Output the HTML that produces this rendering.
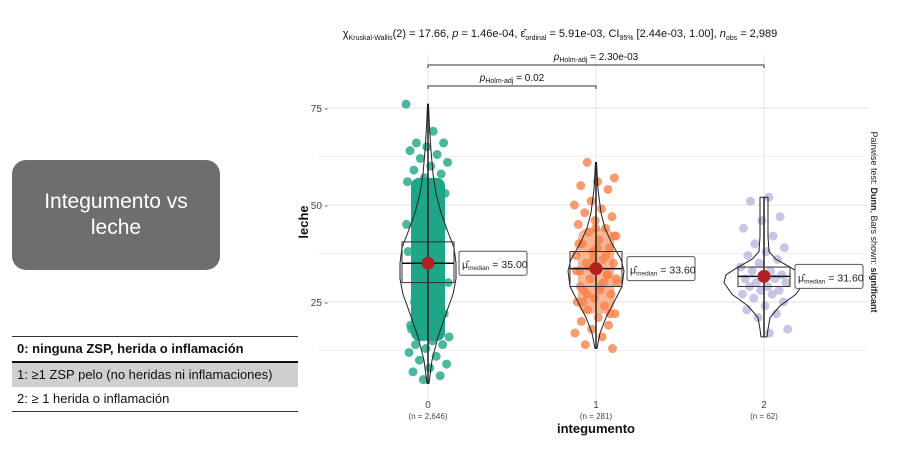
<!DOCTYPE html>
<html><head><meta charset="utf-8">
<style>
body{margin:0;width:898px;height:452px;background:#fff;overflow:hidden;font-family:"Liberation Sans",sans-serif;position:relative}
.card{position:absolute;left:12px;top:160px;width:208px;height:110px;background:#6e6e6e;border-radius:14px;color:#fff;font-size:21px;text-align:center;display:flex;align-items:center;justify-content:center;line-height:26px}
.tbl{position:absolute;left:12px;top:336px;width:286px;font-size:13px;color:#111}
.row{height:24px;line-height:24px;padding-left:5px}
</style></head><body>
<div class="card">Integumento vs<br>leche</div>
<div class="tbl">
<div style="border-top:1px solid #333"></div>
<div class="row" style="font-weight:bold">0: ninguna ZSP, herida o inflamación</div>
<div style="border-top:2px solid #111"></div>
<div class="row" style="background:#cfcfcf">1: ≥1 ZSP pelo (no heridas ni inflamaciones)</div>
<div class="row">2: ≥ 1 herida o inflamación</div>
<div style="border-top:1px solid #333"></div>
</div>
<svg id="chart" width="898" height="452" style="position:absolute;left:0;top:0"></svg>
<script>
const categories=["0","1","2"];
const counts=["(n = 2,646)","(n = 281)","(n = 62)"];
const medians=[35.0,33.6,31.6];
const q1s=[30,29,29];
const q3s=[40.5,38,34];
const mins=[4,13,16];
const maxs=[76,61,52];
const yTicks=[25,50,75];
const violin0=[[4,1],[10,4],[16,10],[22,18],[27,25],[31,28],[35,28],[39,26],[43,20],[48,13],[53,8],[58,5],[64,3],[70,1.5],[76,0.5]];
const violin1=[[13,1],[17,4],[21,10],[25,18],[29,26],[33,28],[36,25],[40,16],[44,9],[48,5],[54,2],[61,0.5]];
const violin2=[[16,3],[18,4],[21,6],[24,16],[27,32],[30,40],[32,38],[34,26],[36,12],[38,5],[42,4],[46,4],[50,4],[52,4]];
const pts0=[76,69,66,66,65,64,63,62,61,60,59,58,57,56,55,54,53,52,18,17,16,16,15,14,14,13,12,11,10,9,8,7,6,5,45,48,50,22,20,19,40,35,30,27,25,44,42,38,33,47];
const pts1=[61,57,56,55,54,51,50,49,48,47,46,45,44,43,42,41,40,39,38,37,36,35,35,34,33,32,31,30,29,28,27,26,25,24,23,22,21,20,19,18,17,16,14,13,44,40,37,34,31,28,25,22,36,33,30,27,42,39,29,32];
const pts2=[52,51,47,46,44,42,40,39,38,37,36,35,34,33,33,32,32,31,31,30,30,29,29,28,28,27,27,26,25,24,23,22,21,18,17];
const colors=["#1fa587","#f5834c","#a9a7d6"];
const svg=document.getElementById('chart');const NS="http://www.w3.org/2000/svg";
function Y(v){return 302-(v-25)*3.88;}
function X(i){return 428+i*168;}
function el(t,a,p){const e=document.createElementNS(NS,t);for(const k in a)e.setAttribute(k,a[k]);(p||svg).appendChild(e);return e;}
for(const v of [12.5,37.5,62.5]){const g=el('line',{x1:318,x2:868,y1:Y(v),y2:Y(v),stroke:'#f0f0f0'});}
for(const v of yTicks){const g=el('line',{x1:318,x2:868,y1:Y(v),y2:Y(v),stroke:'#e2e2e2'});
const t=el('text',{x:328,y:Y(v)+4,'font-size':10,fill:'#444','text-anchor':'end'});t.textContent=v+' -';}
categories.forEach((c,i)=>{const g=el('line',{x1:X(i),x2:X(i),y1:55,y2:404,stroke:'#e6e6e6'});});
const band=el('rect',{x:X(0)-17,y:Y(57),width:34,height:Y(15)-Y(57),fill:colors[0],rx:8});
const band1=el('rect',{x:X(1)-18,y:Y(44),width:36,height:Y(22)-Y(44),fill:colors[1],opacity:0.6,rx:10});
[pts0,pts1,pts2].forEach((arr,i)=>{const w=[22,22,24][i];arr.forEach((v,j)=>{const jx=(((j*0.6180339+i*0.3)%1)*2-1)*w;const c=el('circle',{cx:X(i)+jx,cy:Y(v),r:4.5,fill:colors[i],opacity:i==2?0.65:0.8});});});
[violin0,violin1,violin2].forEach((vd,i)=>{let d='M'+X(i)+','+Y(vd[0][0]);vd.forEach(p=>d+=' L'+(X(i)+p[1])+','+Y(p[0]));for(let k=vd.length-1;k>=0;k--)d+=' L'+(X(i)-vd[k][1])+','+Y(vd[k][0]);d+='Z';
const p=el('path',{d:d,fill:'none',stroke:'#222','stroke-width':1,'stroke-linejoin':'round'});
const wl=el('line',{x1:X(i),x2:X(i),y1:Y(mins[i]),y2:Y(maxs[i]),stroke:'#222','stroke-width':1.5});
const b=el('rect',{x:X(i)-26,y:Y(q3s[i]),width:52,height:Y(q1s[i])-Y(q3s[i]),fill:'none',stroke:'#333'});
const ml=el('line',{x1:X(i)-26,x2:X(i)+26,y1:Y(medians[i]),y2:Y(medians[i]),stroke:'#111','stroke-width':1.5});
const m=el('circle',{cx:X(i),cy:Y(medians[i]),r:6.5,fill:'#b22222'});
const lb=el('rect',{x:X(i)+31,y:Y(medians[i])-12,width:68,height:24,fill:'#fff',stroke:'#555',rx:2});
const lt=el('text',{x:X(i)+34,y:Y(medians[i])+5,'font-size':10.5,fill:'#222'});lt.innerHTML='μ̂<tspan font-size="6.5" dy="2">median</tspan><tspan dy="-2"> = '+medians[i].toFixed(2)+'</tspan>';
const xt=el('text',{x:X(i),y:408,'font-size':10,fill:'#444','text-anchor':'middle'});xt.textContent=categories[i];
const nt=el('text',{x:X(i),y:419,'font-size':8,fill:'#444','text-anchor':'middle'});nt.textContent=counts[i];});
const xa=el('text',{x:596,y:433,'font-size':13,'font-weight':'bold','text-anchor':'middle',fill:'#111'});xa.textContent='integumento';
const ya=el('text',{x:0,y:0,'font-size':13,'font-weight':'bold','text-anchor':'middle',fill:'#111',transform:'translate(308,222) rotate(-90)'});ya.textContent='leche';
const rt=el('text',{x:0,y:0,'font-size':9,'text-anchor':'middle',fill:'#222',transform:'translate(871,222) rotate(90)'});rt.innerHTML='Pairwise test: <tspan font-weight="bold">Dunn</tspan>, Bars shown: <tspan font-weight="bold">significant</tspan>';
const ti=el('text',{x:560,y:37,'font-size':11,'text-anchor':'middle',fill:'#111'});ti.innerHTML='χ<tspan font-size="7" dy="3">Kruskal-Wallis</tspan><tspan dy="-3">(2) = 17.66, </tspan><tspan font-style="italic">p</tspan> = 1.46e-04, ε̂<tspan font-size="7" dy="3">ordinal</tspan><tspan dy="-3"> = 5.91e-03, CI</tspan><tspan font-size="7" dy="3">95%</tspan><tspan dy="-3"> [2.44e-03, 1.00], </tspan><tspan font-style="italic">n</tspan><tspan font-size="7" dy="3">obs</tspan><tspan dy="-3"> = 2,989</tspan>';
function bar(x1,x2,y,label,name){const p=el('path',{d:`M${x1},${y+3} V${y} H${x2} V${y+3}`,fill:'none',stroke:'#333','stroke-width':1});
const t=el('text',{x:(x1+x2)/2,y:y-5,'font-size':10,'text-anchor':'middle',fill:'#111'});t.innerHTML='<tspan font-style="italic">p</tspan><tspan font-size="7" dy="2">Holm-adj</tspan><tspan dy="-2"> = '+label+'</tspan>';}
bar(X(0),X(2),65,'2.30e-03','sig-bar-0-2');
bar(X(0),X(1),86,'0.02','sig-bar-0-1');
</script>
</body></html>
